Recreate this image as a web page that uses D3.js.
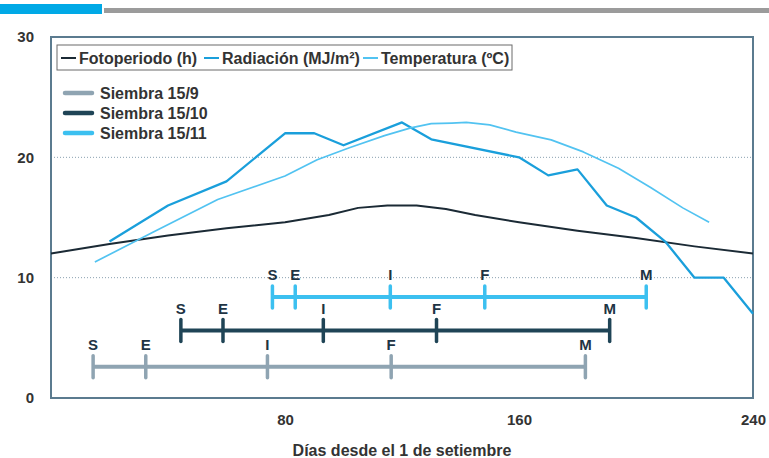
<!DOCTYPE html>
<html><head><meta charset="utf-8">
<script src="https://cdn.jsdelivr.net/npm/d3@7"></script>
<style>body{margin:0;background:#fff}svg{display:block;font-family:"Liberation Sans",Arial,sans-serif}</style>
</head><body><svg id="c" width="769" height="458"></svg>
<script>
// ---- data ----
const fotoDays = [0,20,40,60,80,95,105,115,125,135,145,160,180,200,220,240];
const fotoVals = [12.0,12.8,13.5,14.1,14.6,15.2,15.8,16.0,16.0,15.7,15.2,14.6,13.9,13.3,12.6,12.0];
const radDays = [20,40,60,80,90,100,120,130,160,170,180,190,200,210,220,230,240];
const radVals = [13,16,18,22,22,21,22.9,21.5,20,18.5,19,16,15,13,10,10,7];
const tempDays = [15,35,57,80,91,102,114,123,130,137,142,150,159,171,182,194,205,216,225];
const tempVals = [11.3,13.8,16.5,18.45,19.8,20.8,21.8,22.45,22.8,22.85,22.9,22.7,22.1,21.45,20.45,19.1,17.5,15.8,14.6];
const stageLabels = ["S","E","I","F","M"];
const siembraNames = ["Siembra 15/9","Siembra 15/10","Siembra 15/11"];
const siembraLevels = [2.6,5.6,8.4];
const siembra159 = [14.4,32.4,74,116.3,182.7];
const siembra1510 = [44.4,58.8,93.1,131.8,191];
const siembra1511 = [75.7,83.5,116,148.3,203.5];
const legendNames = ["Fotoperiodo (h)","Radiación (MJ/m²)","Temperatura (ºC)"];
const xTicks = [80,160,240];
const yTicks = [0,10,20,30];
const gridVals = [10,20];

const svg = d3.select("#c");
const x = d3.scaleLinear().domain([0,240]).range([51,753]);
const y = d3.scaleLinear().domain([0,30]).range([398,37]);
const frameCol = "#5b7b8f", txtCol = "#333";

// header bars
svg.append("rect").attr("x",0).attr("y",4).attr("width",102).attr("height",10).attr("fill","#00a9e6");
svg.append("rect").attr("x",104).attr("y",8).attr("width",665).attr("height",5).attr("fill","#9b9b9b");

// gridlines
svg.selectAll(".grid").data(gridVals).enter().append("line")
  .attr("x1",x(0)).attr("x2",x(240)).attr("y1",d=>y(d)).attr("y2",d=>y(d))
  .attr("stroke","#8aa0b0").attr("stroke-width",1).attr("stroke-dasharray","1,2");

// axes (labels only)
const yAxis = svg.append("g").attr("transform",`translate(${x(0)},0)`)
  .call(d3.axisLeft(y).tickValues(yTicks).tickSize(0).tickPadding(17));
const xAxis = svg.append("g").attr("transform",`translate(0,${y(0)})`)
  .call(d3.axisBottom(x).tickValues(xTicks).tickSize(0).tickPadding(16));
[yAxis,xAxis].forEach(a=>{
  a.select(".domain").remove();
  a.selectAll("text").attr("fill",txtCol).attr("font-size",15).attr("font-weight","bold")
   .attr("font-family",'"Liberation Sans",Arial,sans-serif');
});

// frame
svg.append("rect").attr("x",x(0)).attr("y",y(30)).attr("width",x(240)-x(0)).attr("height",y(0)-y(30))
  .attr("fill","none").attr("stroke",frameCol).attr("stroke-width",2);

// lines
const series = [
  {days:fotoDays, vals:fotoVals, color:"#1b2a35", w:2},
  {days:radDays, vals:radVals, color:"#1a9fdb", w:2.3},
  {days:tempDays, vals:tempVals, color:"#52c3f1", w:1.7}
];
const line = d3.line().x(d=>x(d[0])).y(d=>y(d[1]));
series.forEach(s=>{
  svg.append("path").datum(s.days.map((d,i)=>[d,s.vals[i]]))
    .attr("d",line).attr("fill","none").attr("stroke",s.color).attr("stroke-width",s.w)
    .attr("stroke-linejoin","round");
});

// phenology bars
const phen = [siembra159, siembra1510, siembra1511];
const phenColors = ["#8fa4b2","#1f4456","#3cc0f0"];
phen.forEach((days,i)=>{
  const g = svg.append("g");
  const yy = y(siembraLevels[i]);
  g.append("line").attr("x1",x(days[0])).attr("x2",x(days[days.length-1]))
    .attr("y1",yy).attr("y2",yy).attr("stroke",phenColors[i]).attr("stroke-width",4);
  g.selectAll(".tk").data(days).enter().append("line")
    .attr("x1",d=>x(d)).attr("x2",d=>x(d)).attr("y1",yy-11).attr("y2",yy+11)
    .attr("stroke",phenColors[i]).attr("stroke-width",3.5).attr("stroke-linecap","round");
  g.selectAll(".lb").data(days).enter().append("text")
    .attr("x",d=>x(d)).attr("y",yy-17).attr("text-anchor","middle")
    .attr("font-size",15).attr("font-weight","bold").attr("fill","#1e3444")
    .text((d,j)=>stageLabels[j]);
});

// legend box
svg.append("rect").attr("x",57).attr("y",45).attr("width",455).attr("height",25)
  .attr("fill","#fff").attr("stroke","#6b6b6b").attr("stroke-width",1);
const legX = [61,204,363];
legendNames.forEach((n,i)=>{
  svg.append("line").attr("x1",legX[i]).attr("x2",legX[i]+15).attr("y1",58).attr("y2",58)
    .attr("stroke",series[i].color).attr("stroke-width",2);
  svg.append("text").attr("x",legX[i]+18).attr("y",63.5).attr("font-size",16).attr("font-weight","bold")
    .attr("fill",txtCol).text(n);
});
const sLegY = [93,113,133];
siembraNames.forEach((n,i)=>{
  svg.append("line").attr("x1",65).attr("x2",92).attr("y1",sLegY[i]).attr("y2",sLegY[i])
    .attr("stroke",phenColors[i]).attr("stroke-width",4.5).attr("stroke-linecap","round");
  svg.append("text").attr("x",100).attr("y",sLegY[i]+5.5).attr("font-size",16).attr("font-weight","bold")
    .attr("fill",txtCol).text(n);
});

// x axis title
svg.append("text").attr("x",402).attr("y",456).attr("text-anchor","middle")
  .attr("font-size",16).attr("font-weight","bold").attr("fill",txtCol).text("Días desde el 1 de setiembre");
</script></body></html>
